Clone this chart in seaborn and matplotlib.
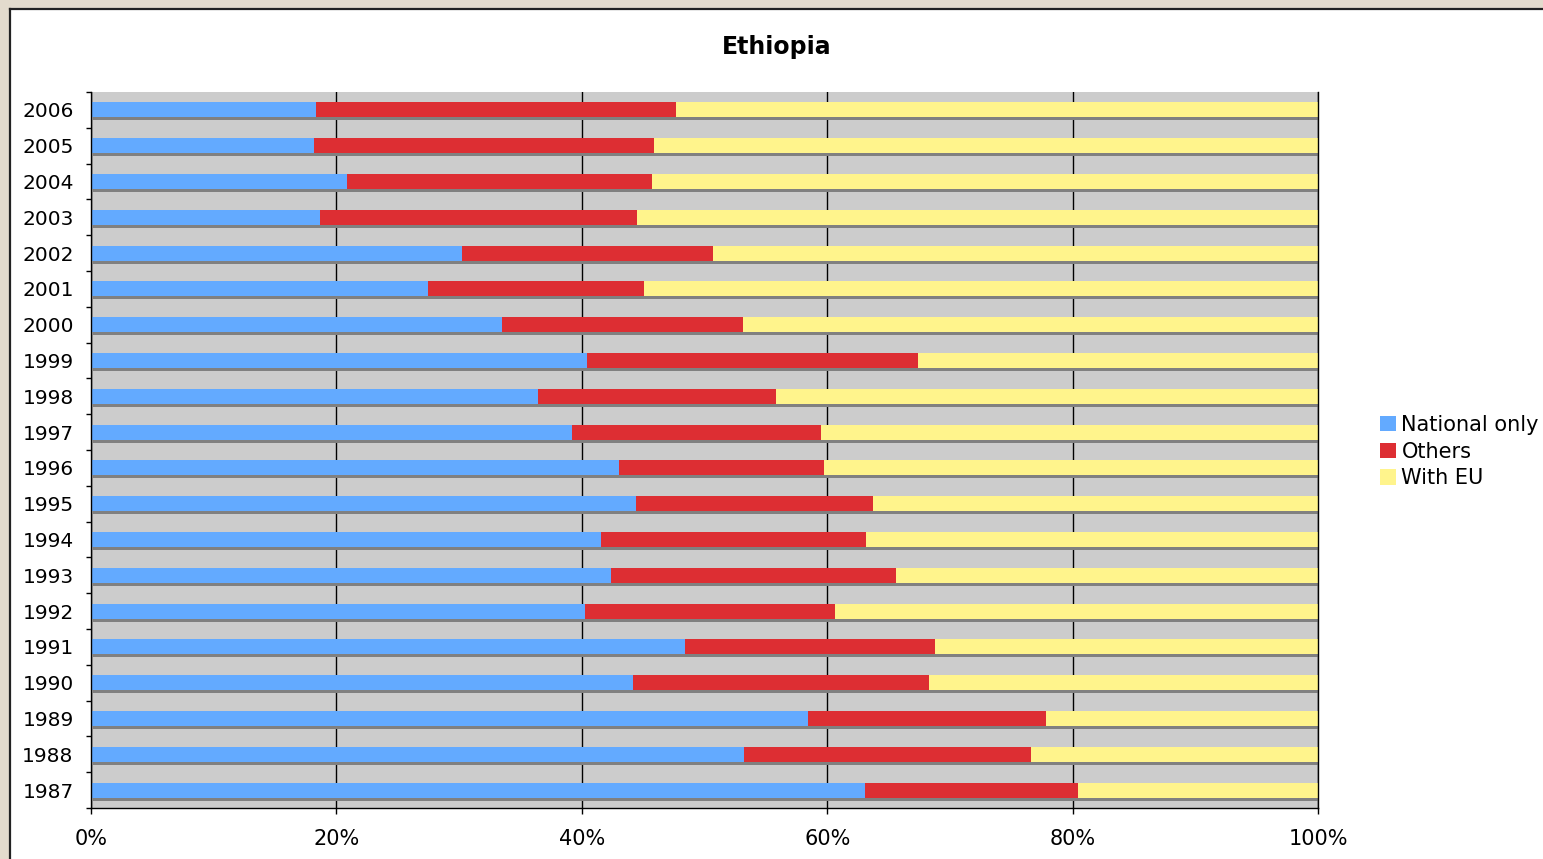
import matplotlib
matplotlib.use("Agg")
import matplotlib.pyplot as plt
import matplotlib.patheffects as pe
from matplotlib.patches import Rectangle, Patch
from matplotlib.lines import Line2D
import seaborn as sns
import pandas as pd
import numpy as np

# Share of agreements per year (%), Ethiopia
years = [1987, 1988, 1989, 1990, 1991, 1992, 1993, 1994, 1995, 1996,
         1997, 1998, 1999, 2000, 2001, 2002, 2003, 2004, 2005, 2006]
national_only = [63.1, 53.2, 58.4, 44.2, 48.4, 40.3, 42.4, 41.6, 44.4, 43.0,
                 39.2, 36.4, 40.4, 33.5, 27.5, 30.2, 18.7, 20.9, 18.2, 18.3]
others = [17.3, 23.4, 19.4, 24.1, 20.4, 20.3, 23.2, 21.6, 19.3, 16.7,
          20.3, 19.4, 27.0, 19.6, 17.6, 20.5, 25.8, 24.8, 27.7, 29.4]
with_eu = [19.6, 23.4, 22.2, 31.7, 31.2, 39.4, 34.4, 36.8, 36.3, 40.3,
           40.5, 44.2, 32.6, 46.9, 54.9, 49.3, 55.5, 54.3, 54.1, 52.3]

series_names = ["National only", "Others", "With EU"]
colors = ["#63AAFF", "#DD2E33", "#FFF48C"]

df = pd.DataFrame({
    "year": [str(y) for y in years],
    "national": national_only,
    "others": others,
    "with_eu": with_eu,
})
# cumulative right edges for the stacked bars
df["c1"] = df["national"]
df["c2"] = df["national"] + df["others"]
df["c3"] = df["c2"] + df["with_eu"]
order = [str(y) for y in years[::-1]]

W, H = 1543, 859
fig = plt.figure(figsize=(W / 100, H / 100), dpi=100)
fig.patch.set_facecolor("#E3DBCD")

# white chart panel with a dark edge on top and left
fig.add_artist(Rectangle((10 / W, 0), 1, 1 - 8 / H, transform=fig.transFigure,
                         facecolor="white", edgecolor="none", zorder=0))
fig.add_artist(Line2D([10 / W, 1], [1 - 9 / H, 1 - 9 / H], transform=fig.transFigure,
                      color="#222222", lw=1.6, zorder=1))
fig.add_artist(Line2D([10 / W, 10 / W], [0, 1 - 9 / H], transform=fig.transFigure,
                      color="#222222", lw=1.6, zorder=1))

ax = fig.add_axes([91 / W, (H - 808) / H, (1318 - 91) / W, (808 - 92) / H])
ax.set_facecolor("#CCCCCC")

bar_w = 0.42
sns.barplot(data=df, x="c3", y="year", order=order, orient="h", color=colors[2],
            saturation=1, width=bar_w, ax=ax, errorbar=None)
for p in ax.patches:
    p.set_path_effects([pe.SimplePatchShadow(offset=(1.4, -2.2), shadow_rgbFace="#808080",
                                             alpha=1.0), pe.Normal()])
sns.barplot(data=df, x="c2", y="year", order=order, orient="h", color=colors[1],
            saturation=1, width=bar_w, ax=ax, errorbar=None)
sns.barplot(data=df, x="c1", y="year", order=order, orient="h", color=colors[0],
            saturation=1, width=bar_w, ax=ax, errorbar=None)

ax.set_xlim(0, 100)
ax.set_ylim(len(order) - 0.5, -0.5)
ax.set_xlabel("")
ax.set_ylabel("")

ax.set_axisbelow(True)
ax.xaxis.grid(True, color="black", lw=1)
ax.yaxis.grid(False)

ax.set_xticks(np.arange(0, 101, 20))
ax.set_xticklabels([f"{v}%" for v in range(0, 101, 20)])
ax.tick_params(axis="x", length=4.3, width=1, direction="out", pad=10.5,
               labelsize=15, colors="black")
ax.set_yticks(np.arange(len(order)))
ax.set_yticklabels(order)
ax.tick_params(axis="y", which="major", length=0, pad=12.5, labelsize=14.5, colors="black")
ax.set_yticks(np.arange(len(order) + 1) - 0.5, minor=True)
ax.tick_params(axis="y", which="minor", length=3.6, width=1, direction="out", color="black")

for s in ["left", "bottom", "right"]:
    ax.spines[s].set_color("black")
    ax.spines[s].set_linewidth(1)
ax.spines["top"].set_visible(False)

fig.text(777 / W, 1 - 47 / H, "Ethiopia", ha="center", va="center",
         fontsize=17, fontweight="bold", color="black")

handles = [Patch(facecolor=c, edgecolor="none") for c in colors]
fig.legend(handles, series_names, loc="upper left",
           bbox_to_anchor=(1380 / W, 1 - 415 / H), frameon=False,
           fontsize=15, handlelength=0.75, handleheight=0.75,
           handletextpad=0.28, labelspacing=0.32, borderpad=0, borderaxespad=0)

fig.savefig("out.png", dpi=100, facecolor=fig.get_facecolor())
